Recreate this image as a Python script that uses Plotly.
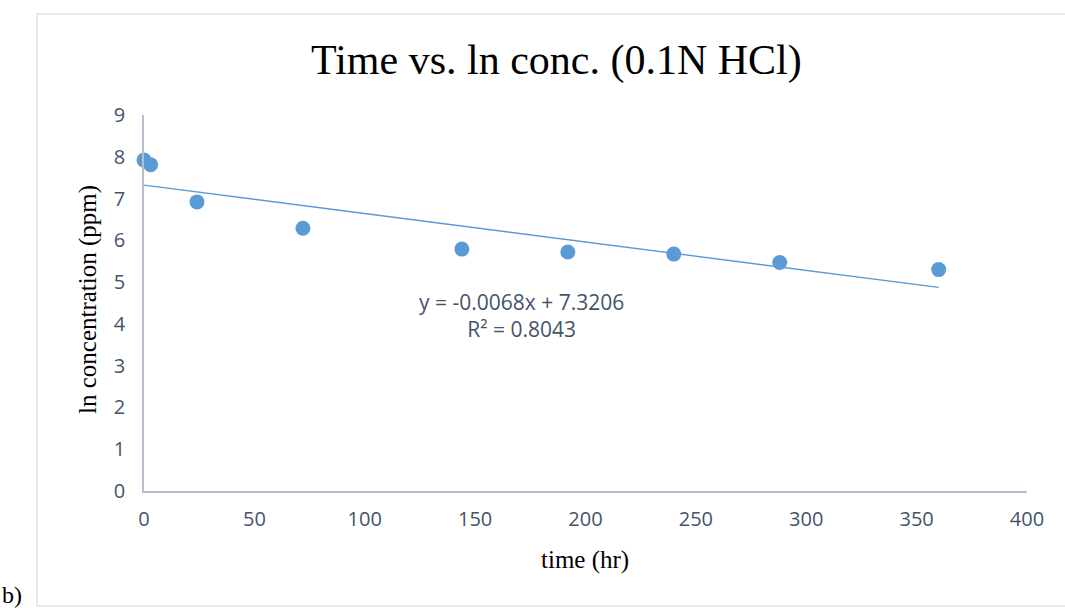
import plotly.graph_objects as go

time_hr = [0, 3, 24, 72, 144, 192, 240, 288, 360]
ln_conc = [7.92, 7.81, 6.92, 6.29, 5.79, 5.72, 5.67, 5.47, 5.30]
slope = -0.0068
intercept = 7.3206
r2 = 0.8043
x_ticks = [0, 50, 100, 150, 200, 250, 300, 350, 400]
y_ticks = [0, 1, 2, 3, 4, 5, 6, 7, 8, 9]

trend_x = [min(time_hr), max(time_hr)]
trend_y = [slope * v + intercept for v in trend_x]

blue = "#5b9bd5"
tick_col = "#44546a"
axis_col = "#b4bfd0"

fig = go.Figure()
fig.add_trace(go.Scatter(x=trend_x, y=trend_y, mode="lines",
                         line=dict(color=blue, width=1.4), hoverinfo="skip",
                         showlegend=False))
fig.add_trace(go.Scatter(x=time_hr, y=ln_conc, mode="markers", cliponaxis=False,
                         marker=dict(color=blue, size=15, line=dict(width=0)),
                         showlegend=False))

fig.update_layout(
    width=1065, height=608,
    margin=dict(l=144, r=38, t=115, b=117),
    paper_bgcolor="white", plot_bgcolor="white",
    font=dict(family="Open Sans", color=tick_col),
    xaxis=dict(range=[0, 400], tickvals=x_ticks, showgrid=False, zeroline=False,
               showline=True, linecolor=axis_col, linewidth=1.5,
               ticks="", tickfont=dict(size=20, color=tick_col), ticklabelstandoff=9),
    yaxis=dict(range=[0, 9], tickvals=y_ticks, showgrid=False, zeroline=False,
               showline=True, linecolor=axis_col, linewidth=1.5,
               ticks="", tickfont=dict(size=20, color=tick_col), ticklabelstandoff=13),
    shapes=[dict(type="rect", xref="paper", yref="paper",
                 x0=(37 - 144) / 883, x1=(1075 - 144) / 883,
                 y0=-(606 - 491) / 376, y1=(491 - 14) / 376,
                 line=dict(color="#dde3ea", width=1.5), fillcolor="rgba(0,0,0,0)",
                 layer="below")],
    annotations=[
        dict(text="Time vs. ln conc. (0.1N HCl)", xref="paper", yref="paper",
             x=(556 - 144) / 883, y=(491 - 60) / 376, showarrow=False,
             xanchor="center", yanchor="middle",
             font=dict(family="Liberation Serif", size=42, color="black")),
        dict(text="time (hr)", xref="paper", yref="paper",
             x=(585 - 144) / 883, y=-(560 - 491) / 376, showarrow=False,
             xanchor="center", yanchor="middle",
             font=dict(family="Liberation Serif", size=25, color="black")),
        dict(text="ln concentration (ppm)", xref="paper", yref="paper",
             x=-(144 - 88) / 883, y=(491 - 300) / 376, showarrow=False,
             textangle=-90, xanchor="center", yanchor="middle",
             font=dict(family="Liberation Serif", size=25, color="black")),
        dict(text="y = -0.0068x + 7.3206<br>R² = 0.8043",
             xref="x", yref="y", x=171, y=4.21, showarrow=False,
             xanchor="center", yanchor="middle", align="center",
             font=dict(family="Open Sans", size=21, color=tick_col)),
        dict(text="b)", xref="paper", yref="paper",
             x=-(144 - 0) / 883, y=-(595 - 491) / 376, showarrow=False,
             xanchor="left", yanchor="middle",
             font=dict(family="Liberation Serif", size=24, color="black")),
    ],
)

fig.write_html("out.html")
